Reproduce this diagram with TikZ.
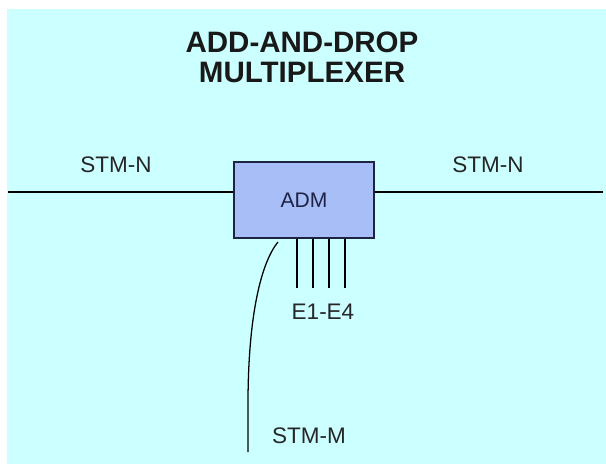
\documentclass[tikz,border=0pt]{standalone}
\usepackage{fontspec}
\setmainfont{Liberation Sans}
\definecolor{bgcyan}{RGB}{204,255,255}
\definecolor{admblue}{RGB}{168,190,246}
\definecolor{admline}{RGB}{30,35,70}
\begin{document}
\begin{tikzpicture}[line width=0.9pt]

  \def\yl{-4.8} \def\xl{0.2} \def\xr{15.08}

  \useasboundingbox (0,0) rectangle (15.15,-11.6);
  \fill[bgcyan] (0.175,-0.225) rectangle (15.15,-11.6);

  \node[align=center, font=\fontsize{21}{21.5}\selectfont\bfseries, text=black!90] (title) at (7.55,-1.43)
    {ADD-AND-DROP\\MULTIPLEXER};

  \node[draw=admline, fill=admblue, minimum width=3.5cm, minimum height=1.9cm,
    font=\fontsize{15}{17}\selectfont, text=admline] (adm) at (7.6,-5.0) {ADM};

  \coordinate (lend) at (\xl,\yl);
  \coordinate (rend) at (\xr,\yl);
  \draw (lend) -- (lend -| adm.west);
  \draw (adm.east |- rend) -- (rend);

  \node[font=\fontsize{16}{18}\selectfont, text=black!85] (stmnl) at (2.9,-4.13) {STM-N};
  \node[font=\fontsize{16}{18}\selectfont, text=black!85] (stmnr) at (12.2,-4.13) {STM-N};

  \foreach \x in {7.425,7.825,8.225,8.625} {
    \draw (adm.south -| \x,0) -- ++(0,-1.225);
  }
  \node[font=\fontsize{16}{18}\selectfont, text=black!85] (trib) at (8.075,-7.8) {E1-E4};

  \coordinate (mtop) at (6.95,-6.05);
  \coordinate (mend) at (6.2,-11.3);
  \draw (mtop) .. controls (6.5,-6.6) and (6.2,-8.0) .. (6.2,-10.1) -- (mend);
  \node[font=\fontsize{16}{18}\selectfont, text=black!85] (stmm) at (7.725,-10.9) {STM-M};

\end{tikzpicture}
\end{document}
